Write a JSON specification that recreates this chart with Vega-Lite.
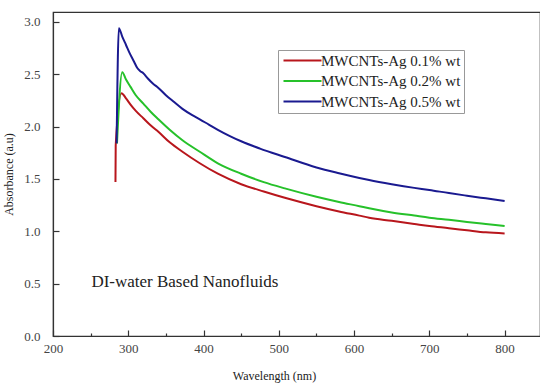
{
  "$schema": "https://vega.github.io/schema/vega-lite/v6.json",
  "width": 487,
  "height": 324,
  "padding": {"left": 53, "top": 12, "right": 0, "bottom": 51},
  "autosize": {"type": "none"},
  "background": "white",
  "config": {"font": "Liberation Serif", "view": {"stroke": "#333", "strokeWidth": 1.2}},
  "layer": [
    {
      "data": {"values": [
        {"s": "MWCNTs-Ag 0.1% wt", "i": 1, "x": 283, "y": 1.47},
        {"s": "MWCNTs-Ag 0.1% wt", "i": 2, "x": 283.3, "y": 1.82},
        {"s": "MWCNTs-Ag 0.1% wt", "i": 3, "x": 291, "y": 2.32},
        {"s": "MWCNTs-Ag 0.1% wt", "i": 4, "x": 297, "y": 2.27},
        {"s": "MWCNTs-Ag 0.1% wt", "i": 5, "x": 303, "y": 2.21},
        {"s": "MWCNTs-Ag 0.1% wt", "i": 6, "x": 310, "y": 2.15},
        {"s": "MWCNTs-Ag 0.1% wt", "i": 7, "x": 320, "y": 2.08},
        {"s": "MWCNTs-Ag 0.1% wt", "i": 8, "x": 330, "y": 2.01},
        {"s": "MWCNTs-Ag 0.1% wt", "i": 9, "x": 340, "y": 1.95},
        {"s": "MWCNTs-Ag 0.1% wt", "i": 10, "x": 355, "y": 1.85},
        {"s": "MWCNTs-Ag 0.1% wt", "i": 11, "x": 372, "y": 1.76},
        {"s": "MWCNTs-Ag 0.1% wt", "i": 12, "x": 395, "y": 1.65},
        {"s": "MWCNTs-Ag 0.1% wt", "i": 13, "x": 419, "y": 1.55},
        {"s": "MWCNTs-Ag 0.1% wt", "i": 14, "x": 450, "y": 1.45},
        {"s": "MWCNTs-Ag 0.1% wt", "i": 15, "x": 480, "y": 1.38},
        {"s": "MWCNTs-Ag 0.1% wt", "i": 16, "x": 508, "y": 1.32},
        {"s": "MWCNTs-Ag 0.1% wt", "i": 17, "x": 550, "y": 1.24},
        {"s": "MWCNTs-Ag 0.1% wt", "i": 18, "x": 580, "y": 1.19},
        {"s": "MWCNTs-Ag 0.1% wt", "i": 19, "x": 607, "y": 1.15},
        {"s": "MWCNTs-Ag 0.1% wt", "i": 20, "x": 620, "y": 1.13},
        {"s": "MWCNTs-Ag 0.1% wt", "i": 21, "x": 650, "y": 1.10},
        {"s": "MWCNTs-Ag 0.1% wt", "i": 22, "x": 680, "y": 1.07},
        {"s": "MWCNTs-Ag 0.1% wt", "i": 23, "x": 700, "y": 1.05},
        {"s": "MWCNTs-Ag 0.1% wt", "i": 24, "x": 726, "y": 1.03},
        {"s": "MWCNTs-Ag 0.1% wt", "i": 25, "x": 750, "y": 1.01},
        {"s": "MWCNTs-Ag 0.1% wt", "i": 26, "x": 775, "y": 0.99},
        {"s": "MWCNTs-Ag 0.1% wt", "i": 27, "x": 800, "y": 0.98},

        {"s": "MWCNTs-Ag 0.2% wt", "i": 1, "x": 285, "y": 1.84},
        {"s": "MWCNTs-Ag 0.2% wt", "i": 2, "x": 292, "y": 2.52},
        {"s": "MWCNTs-Ag 0.2% wt", "i": 3, "x": 297, "y": 2.45},
        {"s": "MWCNTs-Ag 0.2% wt", "i": 4, "x": 303, "y": 2.38},
        {"s": "MWCNTs-Ag 0.2% wt", "i": 5, "x": 310, "y": 2.30},
        {"s": "MWCNTs-Ag 0.2% wt", "i": 6, "x": 320, "y": 2.22},
        {"s": "MWCNTs-Ag 0.2% wt", "i": 7, "x": 330, "y": 2.14},
        {"s": "MWCNTs-Ag 0.2% wt", "i": 8, "x": 340, "y": 2.07},
        {"s": "MWCNTs-Ag 0.2% wt", "i": 9, "x": 355, "y": 1.97},
        {"s": "MWCNTs-Ag 0.2% wt", "i": 10, "x": 372, "y": 1.87},
        {"s": "MWCNTs-Ag 0.2% wt", "i": 11, "x": 395, "y": 1.76},
        {"s": "MWCNTs-Ag 0.2% wt", "i": 12, "x": 419, "y": 1.65},
        {"s": "MWCNTs-Ag 0.2% wt", "i": 13, "x": 450, "y": 1.55},
        {"s": "MWCNTs-Ag 0.2% wt", "i": 14, "x": 480, "y": 1.47},
        {"s": "MWCNTs-Ag 0.2% wt", "i": 15, "x": 508, "y": 1.41},
        {"s": "MWCNTs-Ag 0.2% wt", "i": 16, "x": 550, "y": 1.33},
        {"s": "MWCNTs-Ag 0.2% wt", "i": 17, "x": 580, "y": 1.28},
        {"s": "MWCNTs-Ag 0.2% wt", "i": 18, "x": 607, "y": 1.24},
        {"s": "MWCNTs-Ag 0.2% wt", "i": 19, "x": 620, "y": 1.22},
        {"s": "MWCNTs-Ag 0.2% wt", "i": 20, "x": 650, "y": 1.18},
        {"s": "MWCNTs-Ag 0.2% wt", "i": 21, "x": 680, "y": 1.15},
        {"s": "MWCNTs-Ag 0.2% wt", "i": 22, "x": 700, "y": 1.13},
        {"s": "MWCNTs-Ag 0.2% wt", "i": 23, "x": 726, "y": 1.11},
        {"s": "MWCNTs-Ag 0.2% wt", "i": 24, "x": 750, "y": 1.09},
        {"s": "MWCNTs-Ag 0.2% wt", "i": 25, "x": 775, "y": 1.07},
        {"s": "MWCNTs-Ag 0.2% wt", "i": 26, "x": 800, "y": 1.05},

        {"s": "MWCNTs-Ag 0.5% wt", "i": 1, "x": 284.5, "y": 1.84},
        {"s": "MWCNTs-Ag 0.5% wt", "i": 2, "x": 287.5, "y": 2.94},
        {"s": "MWCNTs-Ag 0.5% wt", "i": 3, "x": 292, "y": 2.86},
        {"s": "MWCNTs-Ag 0.5% wt", "i": 4, "x": 297, "y": 2.78},
        {"s": "MWCNTs-Ag 0.5% wt", "i": 5, "x": 302, "y": 2.70},
        {"s": "MWCNTs-Ag 0.5% wt", "i": 6, "x": 307, "y": 2.63},
        {"s": "MWCNTs-Ag 0.5% wt", "i": 7, "x": 312, "y": 2.56},
        {"s": "MWCNTs-Ag 0.5% wt", "i": 8, "x": 316, "y": 2.53},
        {"s": "MWCNTs-Ag 0.5% wt", "i": 9, "x": 320, "y": 2.51},
        {"s": "MWCNTs-Ag 0.5% wt", "i": 10, "x": 326, "y": 2.46},
        {"s": "MWCNTs-Ag 0.5% wt", "i": 11, "x": 333, "y": 2.41},
        {"s": "MWCNTs-Ag 0.5% wt", "i": 12, "x": 340, "y": 2.37},
        {"s": "MWCNTs-Ag 0.5% wt", "i": 13, "x": 350, "y": 2.30},
        {"s": "MWCNTs-Ag 0.5% wt", "i": 14, "x": 360, "y": 2.24},
        {"s": "MWCNTs-Ag 0.5% wt", "i": 15, "x": 372, "y": 2.17},
        {"s": "MWCNTs-Ag 0.5% wt", "i": 16, "x": 385, "y": 2.11},
        {"s": "MWCNTs-Ag 0.5% wt", "i": 17, "x": 395, "y": 2.07},
        {"s": "MWCNTs-Ag 0.5% wt", "i": 18, "x": 407, "y": 2.02},
        {"s": "MWCNTs-Ag 0.5% wt", "i": 19, "x": 419, "y": 1.97},
        {"s": "MWCNTs-Ag 0.5% wt", "i": 20, "x": 435, "y": 1.91},
        {"s": "MWCNTs-Ag 0.5% wt", "i": 21, "x": 450, "y": 1.86},
        {"s": "MWCNTs-Ag 0.5% wt", "i": 22, "x": 475, "y": 1.79},
        {"s": "MWCNTs-Ag 0.5% wt", "i": 23, "x": 508, "y": 1.71},
        {"s": "MWCNTs-Ag 0.5% wt", "i": 24, "x": 550, "y": 1.61},
        {"s": "MWCNTs-Ag 0.5% wt", "i": 25, "x": 580, "y": 1.555},
        {"s": "MWCNTs-Ag 0.5% wt", "i": 26, "x": 607, "y": 1.51},
        {"s": "MWCNTs-Ag 0.5% wt", "i": 27, "x": 620, "y": 1.49},
        {"s": "MWCNTs-Ag 0.5% wt", "i": 28, "x": 650, "y": 1.45},
        {"s": "MWCNTs-Ag 0.5% wt", "i": 29, "x": 680, "y": 1.415},
        {"s": "MWCNTs-Ag 0.5% wt", "i": 30, "x": 700, "y": 1.395},
        {"s": "MWCNTs-Ag 0.5% wt", "i": 31, "x": 726, "y": 1.365},
        {"s": "MWCNTs-Ag 0.5% wt", "i": 32, "x": 750, "y": 1.34},
        {"s": "MWCNTs-Ag 0.5% wt", "i": 33, "x": 775, "y": 1.315},
        {"s": "MWCNTs-Ag 0.5% wt", "i": 34, "x": 800, "y": 1.29}
      ]},
      "mark": {"type": "line", "strokeWidth": 2, "interpolate": "monotone"},
      "encoding": {
        "x": {
          "field": "x", "type": "quantitative",
          "scale": {"domain": [200, 847], "nice": false, "zero": false},
          "axis": {
            "title": "Wavelength (nm)",
            "titleFont": "Liberation Serif", "titleFontSize": 12, "titleFontWeight": "normal", "titleColor": "#222",
            "titleX": 221, "titleY": 34, "titleAlign": "center",
            "values": [200, 250, 300, 350, 400, 450, 500, 550, 600, 650, 700, 750, 800, 850],
            "labelExpr": "datum.value % 100 === 0 ? datum.label : ''",
            "format": "d",
            "labelFont": "Liberation Serif", "labelFontSize": 13, "labelColor": "#444",
            "labelPadding": 12, "labelFlush": false, "labelOverlap": false,
            "grid": false, "domainColor": "#333", "domainWidth": 1.2,
            "tickColor": "#333", "tickWidth": 1.2,
            "tickSize": {"condition": {"test": "datum.value % 100 !== 0", "value": -3}, "value": -6}
          }
        },
        "y": {
          "field": "y", "type": "quantitative",
          "scale": {"domain": [0, 3.095], "nice": false, "zero": true},
          "axis": {
            "title": "Absorbance (a.u)",
            "titleFont": "Liberation Serif", "titleFontSize": 12, "titleFontWeight": "normal", "titleColor": "#222",
            "titlePadding": 8,
            "values": [0, 0.25, 0.5, 0.75, 1, 1.25, 1.5, 1.75, 2, 2.25, 2.5, 2.75, 3],
            "labelExpr": "(datum.value * 100) % 50 === 0 ? datum.label : ''",
            "format": ".1f",
            "labelFont": "Liberation Serif", "labelFontSize": 13, "labelColor": "#444",
            "labelPadding": 19, "labelFlush": false, "labelOverlap": false,
            "grid": false, "domainColor": "#333", "domainWidth": 1.2,
            "tickColor": "#333", "tickWidth": 1.2,
            "tickSize": {"condition": {"test": "(datum.value * 100) % 50 !== 0", "value": -3}, "value": -6}
          }
        },
        "color": {
          "field": "s", "type": "nominal",
          "scale": {
            "domain": ["MWCNTs-Ag 0.1% wt", "MWCNTs-Ag 0.2% wt", "MWCNTs-Ag 0.5% wt"],
            "range": ["#b8161c", "#26c12a", "#1a1a90"]
          },
          "legend": {
            "title": null, "orient": "none", "legendX": 225, "legendY": 38,
            "strokeColor": "#999", "fillColor": "white", "padding": 3,
            "symbolType": "M-1,0H6.6", "symbolSize": 100, "symbolStrokeWidth": 2,
            "labelFont": "Liberation Serif", "labelFontSize": 15, "labelColor": "#222",
            "labelOffset": 25, "rowPadding": 4.5, "labelLimit": 300
          }
        },
        "order": {"field": "i", "type": "quantitative"}
      }
    },
    {
      "data": {"values": [{"x": 251, "y": 0.52, "t": "DI-water Based Nanofluids"}]},
      "mark": {"type": "text", "align": "left", "baseline": "middle", "fontSize": 17, "font": "Liberation Serif", "color": "#222"},
      "encoding": {
        "x": {"field": "x", "type": "quantitative"},
        "y": {"field": "y", "type": "quantitative"},
        "text": {"field": "t"}
      }
    }
  ]
}
